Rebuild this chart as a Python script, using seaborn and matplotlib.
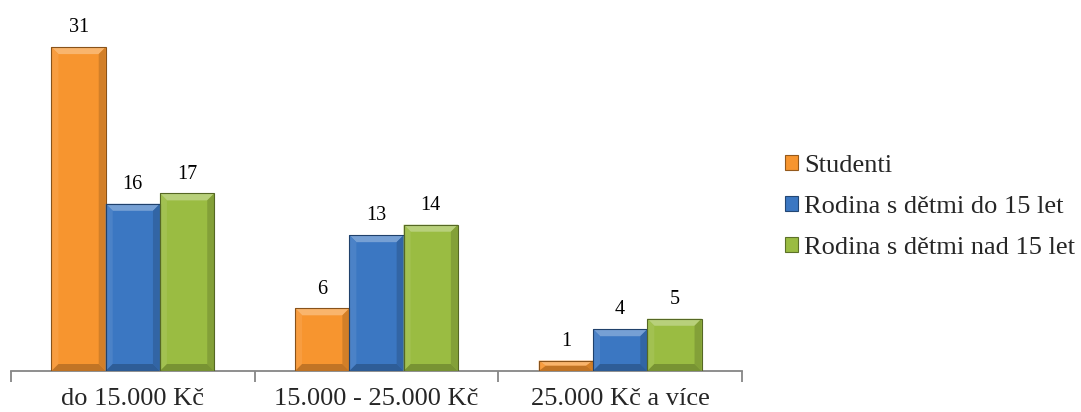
import matplotlib
matplotlib.use("Agg")
import matplotlib.pyplot as plt
from matplotlib.patches import Polygon, Patch
from matplotlib.colors import to_rgb
import seaborn as sns
import pandas as pd
import numpy as np

categories = ["do 15.000 Kč", "15.000 - 25.000 Kč", "25.000 Kč a více"]
series = ["Studenti", "Rodina s dětmi do 15 let", "Rodina s dětmi nad 15 let"]
studenti = [31, 6, 1]
rodina_do_15 = [16, 13, 4]
rodina_nad_15 = [17, 14, 5]
colors = ["#F7952F", "#3B77C2", "#9ABC42"]

rows = []
for name, vals in zip(series, [studenti, rodina_do_15, rodina_nad_15]):
    for cat, v in zip(categories, vals):
        rows.append({"kategorie": cat, "skupina": name, "pocet": v})
df = pd.DataFrame(rows)

sns.set_theme(style="white")
plt.rcParams["font.family"] = ["Liberation Serif", "DejaVu Serif"]

fig = plt.figure(figsize=(10.81, 4.12), dpi=100)
ax = fig.add_axes([11 / 1081, 41 / 412, 731 / 1081, 361 / 412])

sns.barplot(data=df, x="kategorie", y="pocet", hue="skupina", order=categories,
            hue_order=series, palette=colors, width=0.668, saturation=1,
            edgecolor="none", linewidth=0, legend=False, ax=ax)

ax.set_ylim(0, 34.55)
ax.set_xlim(-0.5, 2.5)


def shade(c, f):
    r = np.array(to_rgb(c))
    if f >= 0:
        return tuple(r + (1 - r) * f)
    return tuple(r * (1 + f))


# bevelled look for every bar, built from the drawn rectangles
bars = [p for p in ax.patches]
inv = ax.transData.inverted()
px_x = inv.transform((7, 0))[0] - inv.transform((0, 0))[0]
px_y = inv.transform((0, 7))[1] - inv.transform((0, 0))[1]
for p in bars:
    x0, y0 = p.get_x(), p.get_y()
    w, h = p.get_width(), p.get_height()
    if h <= 0:
        continue
    c = p.get_facecolor()
    bx = min(px_x, w / 2)
    by = min(px_y, h / 2)
    x1, y1 = x0 + w, y0 + h
    top = Polygon([(x0, y1), (x1, y1), (x1 - bx, y1 - by), (x0 + bx, y1 - by)],
                  closed=True, facecolor=shade(c, 0.3), edgecolor="none", zorder=3)
    left = Polygon([(x0, y0), (x0, y1), (x0 + bx, y1 - by), (x0 + bx, y0 + by)],
                   closed=True, facecolor=shade(c, 0.08), edgecolor="none", zorder=3)
    right = Polygon([(x1, y0), (x1, y1), (x1 - bx, y1 - by), (x1 - bx, y0 + by)],
                    closed=True, facecolor=shade(c, -0.15), edgecolor="none", zorder=3)
    bottom = Polygon([(x0, y0), (x1, y0), (x1 - bx, y0 + by), (x0 + bx, y0 + by)],
                     closed=True, facecolor=shade(c, -0.22), edgecolor="none", zorder=3)
    for poly in (top, left, right, bottom):
        ax.add_patch(poly)
    outline = Polygon([(x0, y0), (x0, y1), (x1, y1), (x1, y0)], closed=True,
                      facecolor="none", edgecolor=shade(c, -0.45), linewidth=0.8, zorder=4)
    ax.add_patch(outline)

for cont in ax.containers:
    ax.bar_label(cont, padding=7, fontsize=14.5, color="black")

for s in ["top", "right", "left"]:
    ax.spines[s].set_visible(False)
ax.spines["bottom"].set_color("#868686")
ax.spines["bottom"].set_linewidth(1.3)
ax.set_yticks([])
ax.set_xlabel("")
ax.set_ylabel("")

ax.set_xticks([-0.5, 0.5, 1.5, 2.5])
ax.set_xticklabels([])
ax.tick_params(axis="x", which="major", length=8, width=1.3, color="#868686", bottom=True)
ax.set_xticks([0, 1, 2], minor=True)
ax.set_xticklabels(categories, minor=True, fontsize=19)
ax.tick_params(axis="x", which="minor", length=0, pad=12)

handles = [Patch(facecolor=c, edgecolor=shade(c, -0.4), linewidth=0.8) for c in colors]
fig.legend(handles, series, loc="center left", bbox_to_anchor=(774 / 1081, 0.498),
           frameon=False, fontsize=19, handlelength=0.5, handleheight=0.5,
           handletextpad=0.25, labelspacing=0.72, borderaxespad=0)

fig.savefig("out.png", dpi=100)
